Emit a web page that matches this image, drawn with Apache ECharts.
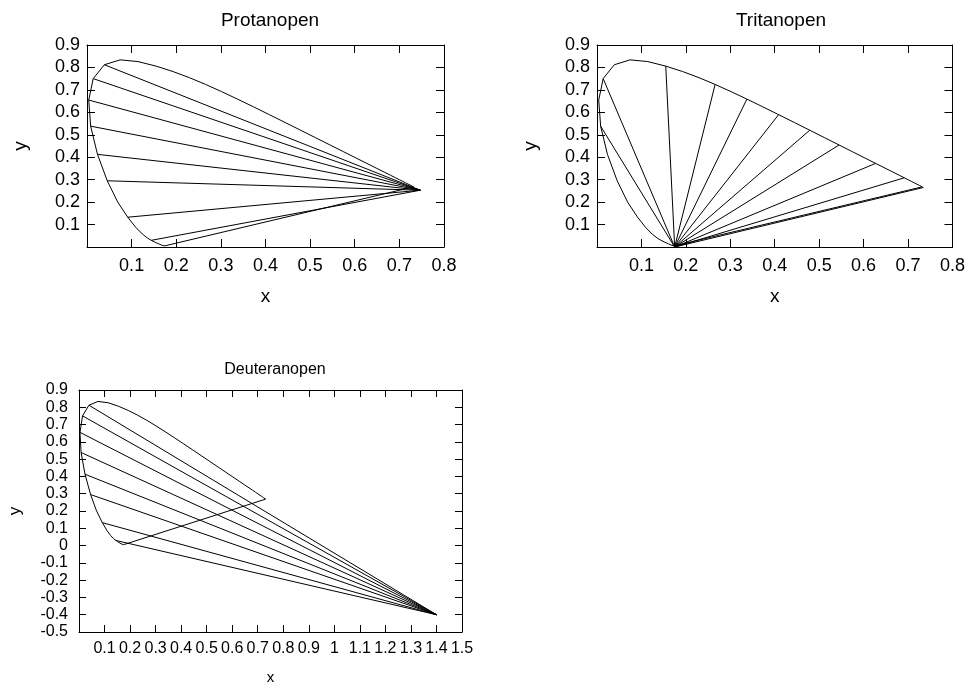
<!DOCTYPE html>
<html>
<head>
<meta charset="utf-8">
<script src="https://cdn.jsdelivr.net/npm/echarts@6/dist/echarts.min.js"></script>
<style>
html,body{margin:0;padding:0;background:#fff;}
#chart{width:968px;height:686px;}
</style>
</head>
<body>
<div id="chart"></div>
<script>
// CIE 1931 spectral locus, 5 nm steps
var wavelengths = [380,385,390,395,400,405,410,415,420,425,430,435,440,445,450,455,460,465,470,475,480,485,490,495,500,505,510,515,520,525,530,535,540,545,550,555,560,565,570,575,580,585,590,595,600,605,610,615,620,625,630,635,640,645,650,655,660,665,670,675,680,685,690,695,700];
var locusX = [0.1741,0.1740,0.1738,0.1736,0.1733,0.1730,0.1726,0.1721,0.1714,0.1703,0.1689,0.1669,0.1644,0.1611,0.1566,0.1510,0.1440,0.1355,0.1241,0.1096,0.0913,0.0687,0.0454,0.0235,0.0082,0.0039,0.0139,0.0389,0.0743,0.1142,0.1547,0.1929,0.2296,0.2658,0.3016,0.3373,0.3731,0.4087,0.4441,0.4788,0.5125,0.5448,0.5752,0.6029,0.6270,0.6482,0.6658,0.6801,0.6915,0.7006,0.7079,0.7140,0.7190,0.7230,0.7260,0.7283,0.7300,0.7311,0.7320,0.7327,0.7334,0.7340,0.7344,0.7346,0.7347];
var locusY = [0.0050,0.0050,0.0049,0.0049,0.0048,0.0048,0.0048,0.0048,0.0051,0.0058,0.0069,0.0086,0.0109,0.0138,0.0177,0.0227,0.0297,0.0399,0.0578,0.0868,0.1327,0.2007,0.2950,0.4127,0.5384,0.6548,0.7502,0.8120,0.8338,0.8262,0.8059,0.7816,0.7543,0.7243,0.6923,0.6589,0.6245,0.5896,0.5547,0.5202,0.4866,0.4544,0.4242,0.3965,0.3725,0.3514,0.3340,0.3197,0.3083,0.2993,0.2920,0.2859,0.2809,0.2770,0.2740,0.2717,0.2700,0.2689,0.2680,0.2673,0.2666,0.2660,0.2656,0.2654,0.2653];

// Confusion-line end wavelengths and copunctal points
var protanEnds = [515,510,505,500,495,490,480,460];
var protanPoint = [0.747, 0.253];
var tritanEnds = [500,510,530,545,555,565,575,585,600,620,700];
var tritanPoint = [0.1748, 0.0];
var deutanEnds = [515,510,505,500,495,490,480,460];
var deutanPoint = [1.4, -0.4];

var titles = ['Protanopen','Tritanopen','Deuteranopen'];
var axisNameX = 'x';
var axisNameY = 'y';

var FONT = 'Liberation Sans';
var chart = echarts.init(document.getElementById('chart'));

function locusData(){
  var d = wavelengths.map(function(w,i){ return [locusX[i], locusY[i]]; });
  d.push([locusX[0], locusY[0]]);
  return d;
}
function pointAt(w){
  var i = wavelengths.indexOf(w);
  return [locusX[i], locusY[i]];
}

var grids = [
  {left:87, top:45, width:357, height:202},
  {left:597, top:45, width:358, height:202},
  {left:79, top:390, width:383, height:249}
];
var ranges = [
  {xmin:0, xmax:0.8, ymin:0, ymax:0.9, fs:18, nfsx:19, nfsy:19, tick:8, lmx:10, lmy:7, ngx:40, ngy:57, showYMin:false},
  {xmin:0, xmax:0.8, ymin:0, ymax:0.9, fs:18, nfsx:19, nfsy:19, tick:8, lmx:10, lmy:7, ngx:40, ngy:57, showYMin:false},
  {xmin:0, xmax:1.5, ymin:-0.5, ymax:0.9, fs:16, nfsx:15, nfsy:17, tick:7, lmx:9, lmy:11, ngx:38, ngy:55, showYMin:true}
];

var xAxes = [], yAxes = [], series = [];
var black = {color:'#000', width:1};
ranges.forEach(function(r, g){
  var baseX = {type:'value', gridIndex:g, min:r.xmin, max:r.xmax, interval:0.1,
    axisLine:{show:true, onZero:false, lineStyle:black},
    axisTick:{show:true, inside:true, length:r.tick, lineStyle:black},
    splitLine:{show:false}};
  var baseY = {type:'value', gridIndex:g, min:r.ymin, max:r.ymax, interval:0.1,
    axisLine:{show:true, onZero:false, lineStyle:black},
    axisTick:{show:true, inside:true, length:r.tick, lineStyle:black},
    splitLine:{show:false}};
  xAxes.push(Object.assign({}, baseX, {position:'bottom',
    axisLabel:{color:'#000', fontSize:r.fs, fontFamily:FONT, margin:r.lmx, showMinLabel:false},
    name:axisNameX, nameLocation:'middle', nameGap:r.ngx,
    nameTextStyle:{color:'#000', fontSize:r.nfsx, fontFamily:FONT}}));
  xAxes.push(Object.assign({}, baseX, {position:'top', axisLabel:{show:false}}));
  yAxes.push(Object.assign({}, baseY, {position:'left',
    axisLabel:{color:'#000', fontSize:r.fs, fontFamily:FONT, margin:r.lmy, showMinLabel:r.showYMin},
    name:axisNameY, nameLocation:'middle', nameGap:r.ngy,
    nameTextStyle:{color:'#000', fontSize:r.nfsy, fontFamily:FONT}}));
  yAxes.push(Object.assign({}, baseY, {position:'right', axisLabel:{show:false}}));
});

var lineStyle = {color:'#000', width:1};
function addSeries(g, ends, pt){
  series.push({type:'line', xAxisIndex:2*g, yAxisIndex:2*g, data:locusData(),
    symbol:'none', lineStyle:lineStyle, silent:true, animation:false});
  ends.forEach(function(w){
    series.push({type:'line', xAxisIndex:2*g, yAxisIndex:2*g, data:[pointAt(w), pt],
      symbol:'none', lineStyle:lineStyle, silent:true, animation:false});
  });
}
addSeries(0, protanEnds, protanPoint);
addSeries(1, tritanEnds, tritanPoint);
addSeries(2, deutanEnds, deutanPoint);

chart.setOption({
  backgroundColor:'#fff',
  animation:false,
  title:[
    {text:titles[0], left:265, top:6, textAlign:'center', textStyle:{color:'#000', fontWeight:'normal', fontSize:19, fontFamily:FONT}},
    {text:titles[1], left:776, top:6, textAlign:'center', textStyle:{color:'#000', fontWeight:'normal', fontSize:19, fontFamily:FONT}},
    {text:titles[2], left:270, top:357, textAlign:'center', textStyle:{color:'#000', fontWeight:'normal', fontSize:16, fontFamily:FONT}}
  ],
  grid:grids,
  xAxis:xAxes,
  yAxis:yAxes,
  series:series
});
</script>
</body>
</html>
